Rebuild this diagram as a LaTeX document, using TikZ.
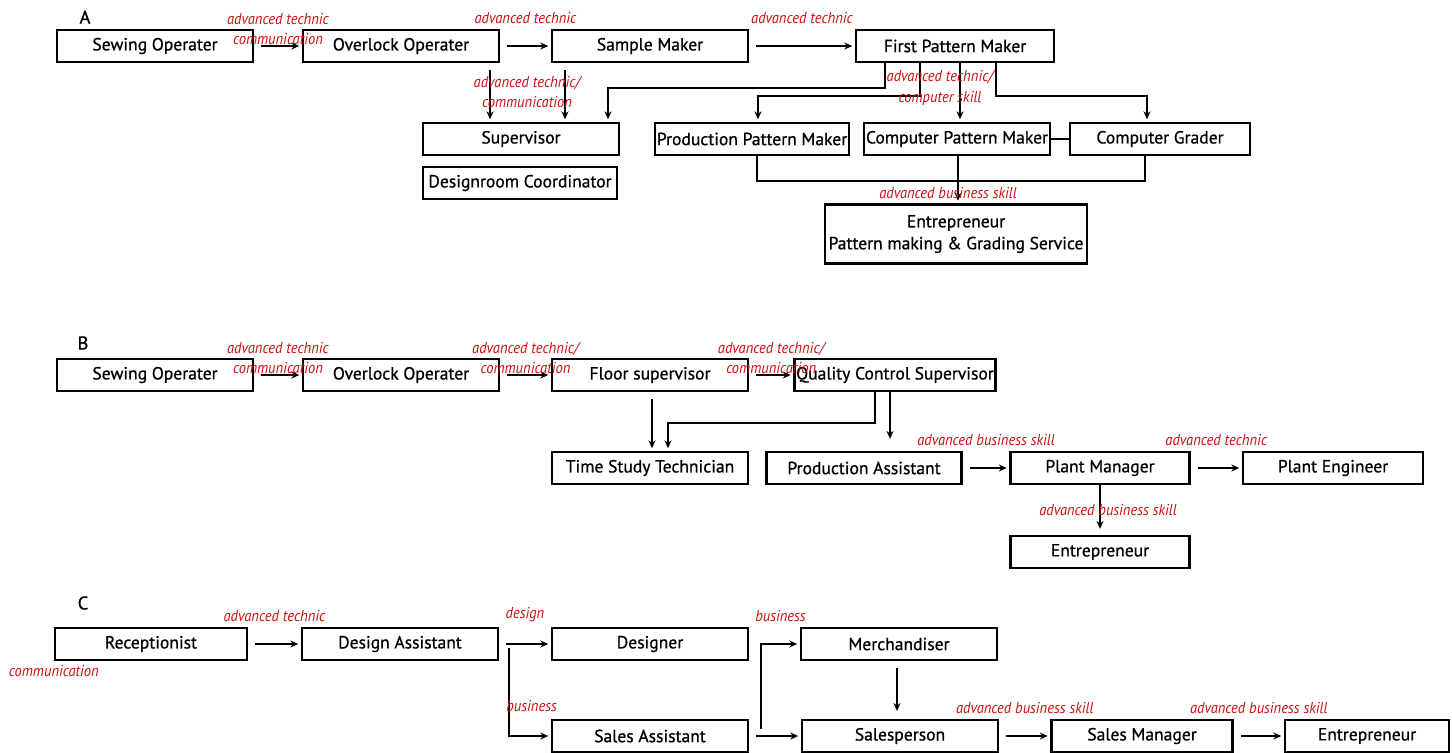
\documentclass[tikz,border=0pt]{standalone}
\usepackage{fontspec}
\setmainfont{PT Sans}
\newfontfamily\skillfont{PT Sans}[FakeStretch=0.92]
\newfontfamily\boxfont{PT Sans}[FakeBold=0.8]
\usetikzlibrary{arrows.meta}
\definecolor{skillred}{RGB}{204,16,16}
\tikzset{
  box/.style={draw, line width=1.3pt, minimum width=3.92cm, minimum height=0.64cm,
    inner xsep=1pt, inner ysep=0pt, font=\boxfont\fontsize{10}{12.5}\selectfont},
  arr/.style={-{Stealth[length=4.5pt,width=4pt]}, line width=1.1pt, shorten <=4pt, shorten >=1.5pt},
  link/.style={line width=1.1pt},
  skill/.style={text=skillred, font=\skillfont\itshape\fontsize{9}{11.5}\selectfont,
    inner sep=0pt, align=center},
  hi/.style={above=0.42cm},
  tag/.style={font=\boxfont\fontsize{10.5}{12}\selectfont, inner sep=0pt}
}

\begin{document}
\begin{tikzpicture}[x=0.02cm, y=-0.02cm]
    \useasboundingbox (0,0) rectangle (1452,753);
    % A
    \node[tag] (ta) at (85,17) {A};
    \node[box] (a1) at (155,46) {Sewing Operater};
    \node[box] (a2) at (401,46) {Overlock Operater};
    \node[box] (a3) at (650,46) {Sample Maker};
    \node[box, minimum width=3.96cm] (a4) at (955,46) {First Pattern Maker};
    \node[box] (a5) at (521,139) {Supervisor};
    \node[box, minimum width=3.88cm] (a6) at (520,183) {Designroom Coordinator};
    \node[box, minimum width=3.8cm] (a7) at (752,139) {Production Pattern Maker};
    \node[box, minimum width=3.56cm] (a8) at (957,139) {Computer Pattern Maker};
    \node[box, minimum width=3.6cm] (a9) at (1160,139) {Computer Grader};
    \node[box, minimum width=5.24cm, minimum height=1.18cm, align=center] (a10) at (956,234)
      {Entrepreneur\\Pattern making \& Grading Service};
    \draw[arr] (a1) -- node[skill, above] {advanced technic\\communication} (a2);
    \draw[arr] (a2) -- node[skill, hi] {advanced technic} (a3);
    \draw[arr] (a3) -- node[skill, hi] {advanced technic} (a4);
    \draw[arr] (a2.south -| 490,0) -- (a5.north -| 490,0);
    \draw[arr] (a3.south -| 565,0) -- (a5.north -| 565,0);
    \node[skill] (s1) at (527,92) {advanced technic/\\communication};
    \draw[arr, shorten <=0pt] (a4.south -| 885,0) -- ++(0,25) -| (a5.north -| 608,0);
    \draw[arr, shorten <=0pt] (a4.south -| 920,0) -- ++(0,33) -| (a7.north -| 758,0);
    \draw[arr, shorten <=0pt] (a4.south -| 960,0) -- (a8.north -| 960,0);
    \draw[arr, shorten <=0pt] (a4.south -| 996,0) -- ++(0,33) -| (a9.north -| 1147,0);
    \node[skill] (s2) at (940,88) {advanced technic/\\computer skill};
    \draw[link] (a8) -- (a9);
    \draw[link] (a7.south -| 757,0) -- ++(0,25) -| (a9.south -| 1145,0);
    \draw[arr, shorten <=0pt] (a8.south -| 958,0) -- (a10.north -| 958,0);
    \node[skill] (s3) at (948,193) {advanced business skill};

    % B
    \node[tag] (tb) at (83,343) {B};
    \node[box] (b1) at (155,375) {Sewing Operater};
    \node[box] (b2) at (401,375) {Overlock Operater};
    \node[box] (b3) at (650,375) {Floor supervisor};
    \node[box, minimum width=4cm] (b4) at (895,375) {Quality Control Supervisor};
    \node[box] (b5) at (650,468) {Time Study Technician};
    \node[box, minimum width=3.9cm] (b6) at (864,468) {Production Assistant};
    \node[box, minimum width=3.58cm] (b7) at (1100,468) {Plant Manager};
    \node[box, minimum width=3.6cm] (b8) at (1333,468) {Plant Engineer};
    \node[box, minimum width=3.58cm] (b9) at (1100,552) {Entrepreneur};
    \draw[arr] (b1) -- node[skill, above] {advanced technic\\communication} (b2);
    \draw[arr] (b2) -- node[skill, above] {advanced technic/\\communication} (b3);
    \draw[arr] (b3) -- node[skill, above] {advanced technic/\\communication} (b4);
    \draw[arr] (b3.south -| 652,0) -- (b5.north -| 652,0);
    \draw[arr, shorten <=0pt] (b4.south -| 875,0) -- ++(0,31) -| (b5.north -| 668,0);
    \draw[arr, shorten <=0pt, shorten >=0.24cm] (b4.south -| 890,0) -- (b6.north -| 890,0);
    \draw[arr] (b6) -- node[skill, hi] {advanced business skill} (b7);
    \draw[arr] (b7) -- node[skill, hi] {advanced technic} (b8);
    \draw[arr, shorten <=0pt, shorten >=3.4pt] (b7) -- node[skill, xshift=0.16cm] {advanced business skill} (b9);

    % C
    \node[tag] (tc) at (83,603) {C};
    \node[box, minimum width=3.84cm] (c1) at (151,644) {Receptionist};
    \node[box] (c2) at (400,644) {Design Assistant};
    \node[box] (c3) at (650,644) {Designer};
    \node[box] (c4) at (899,644) {Merchandiser};
    \node[box] (c5) at (650,736) {Sales Assistant};
    \node[box] (c6) at (900,736) {Salesperson};
    \node[box, minimum width=3.62cm] (c7) at (1142,736) {Sales Manager};
    \node[box, minimum width=3.28cm] (c8) at (1367,736) {Entrepreneur};
    \node[skill, below=2pt] (s4) at (c1.south west) {communication};
    \draw[arr] (c1) -- node[skill, hi] {advanced technic} (c2);
    \draw[arr] (c2) -- node[skill, hi] {design} (c3);
    \draw[arr, shorten <=0pt] ([xshift=0.2cm, yshift=-0.08cm]c2.east) |- (c5.west);
    \node[skill, anchor=west] (s5) at (506,706) {business};
    \draw[arr, shorten <=0pt] ([xshift=0.24cm, yshift=0.14cm]c5.east) |- node[skill, hi, pos=0.75] {business} (c4.west);
    \draw[arr] (c5) -- (c6);
    \draw[arr, shorten >=4.5pt] (c4.south -| 897,0) -- (c6.north -| 897,0);
    \draw[arr] (c6) -- node[skill, hi] {advanced business skill} (c7);
    \draw[arr] (c7) -- node[skill, hi] {advanced business skill} (c8);
\end{tikzpicture}
\end{document}
